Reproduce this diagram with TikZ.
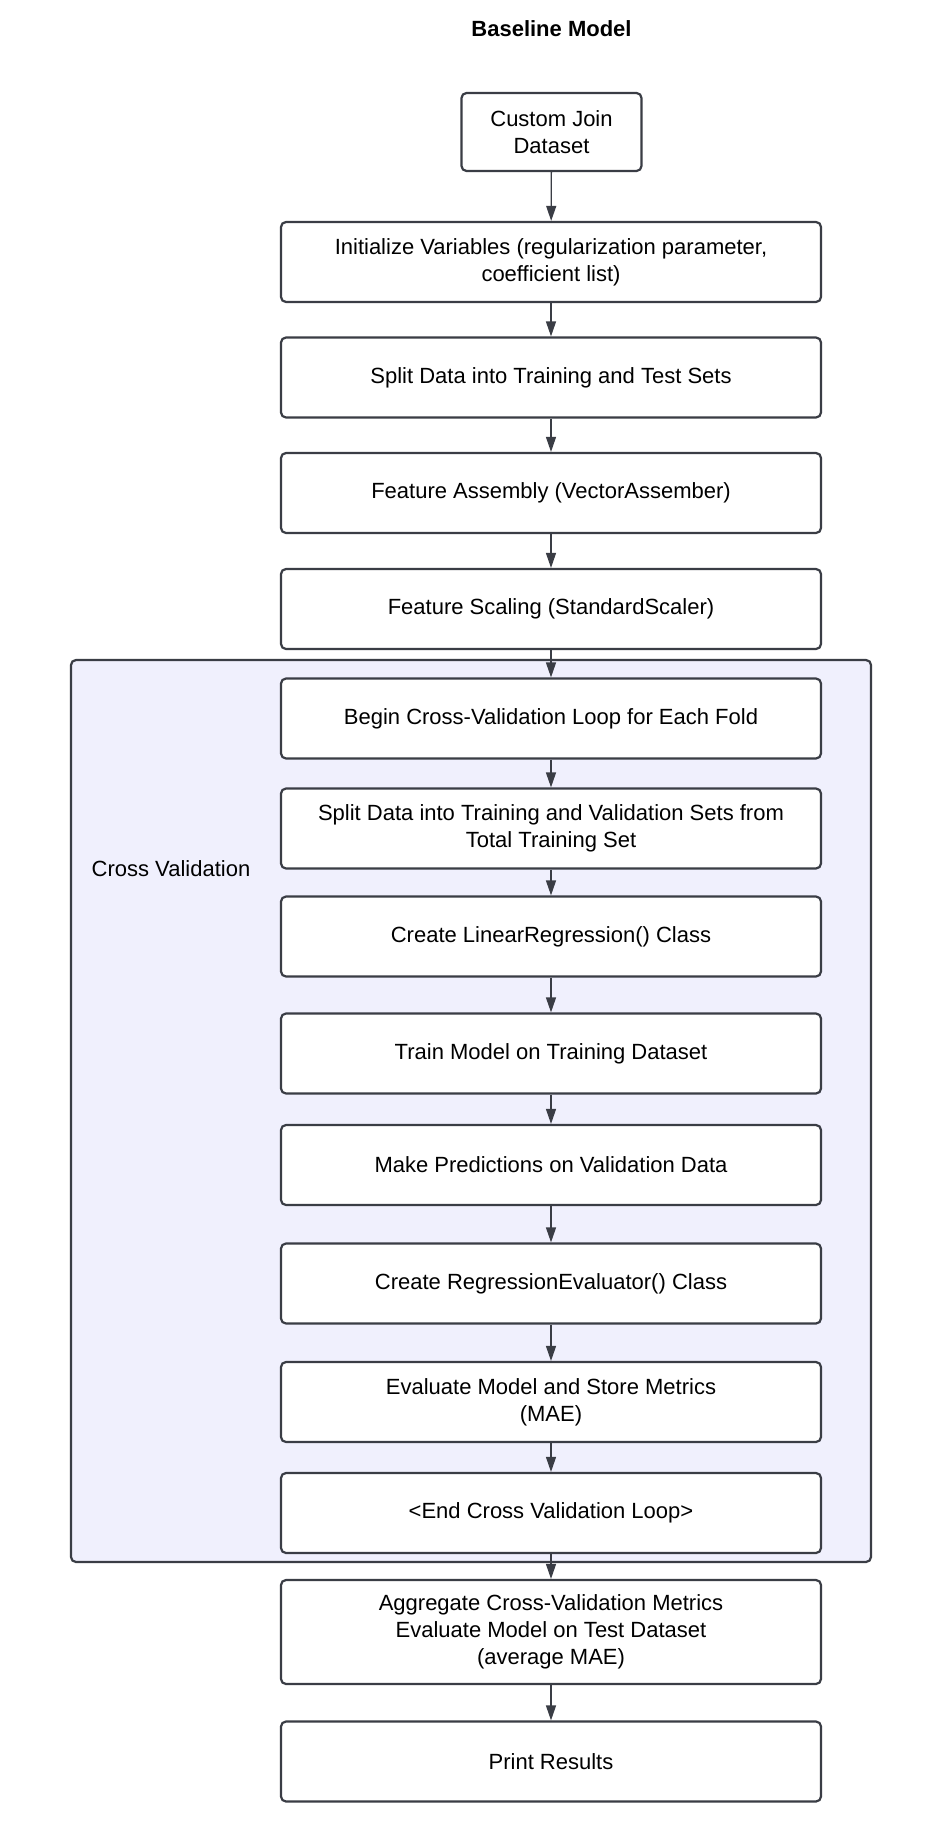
\documentclass[tikz,border=0pt]{standalone}
\usepackage{fontspec}
\setmainfont{Liberation Sans}
\usetikzlibrary{arrows.meta}
\definecolor{edgecol}{HTML}{3A3D45}
\definecolor{lanecol}{HTML}{F0F0FD}
\begin{document}
\begin{tikzpicture}[x=1pt,y=-1pt,
  box/.style={draw=edgecol, line width=2.2pt, rounded corners=5pt, fill=white,
    minimum width=540pt, minimum height=80pt, align=center,
    font=\fontsize{22}{27}\selectfont, inner sep=0pt},
  flow/.style={draw=edgecol, line width=1.3pt, -{Triangle[length=15pt,width=10pt]}},
  lane/.style={draw=edgecol, fill=lanecol, line width=2.2pt, rounded corners=5pt,
    minimum width=800pt, minimum height=902pt, inner sep=0pt}]
\path[fill=white] (0,0) rectangle (943,1833);
\useasboundingbox (0,0) rectangle (943,1833);

\node (title) at (551.5,29) {\fontsize{22}{27}\selectfont\bfseries Baseline Model};

\node[lane] (cv) at (471,1111) {};
\node[anchor=west, font=\fontsize{22}{27}\selectfont, inner sep=0pt] (cvlabel) at (91.5,869) {Cross Validation};

\node[box, minimum width=180pt, minimum height=78pt] (cj) at (551.5,132) {Custom Join\\Dataset};
\node[box] (init) at (551,262) {Initialize Variables (regularization parameter,\\coefficient list)};
\node[box] (split) at (551,377.5) {Split Data into Training and Test Sets};
\node[box] (fa) at (551,493) {Feature Assembly (VectorAssember)};
\node[box] (fs) at (551,609) {Feature Scaling (StandardScaler)};
\node[box] (bcv) at (551,718.5) {Begin Cross-Validation Loop for Each Fold};
\node[box] (sv) at (551,828.5) {Split Data into Training and Validation Sets from\\Total Training Set};
\node[box] (lr) at (551,936.5) {Create LinearRegression() Class};
\node[box] (train) at (551,1053.5) {Train Model on Training Dataset};
\node[box] (pred) at (551,1165) {Make Predictions on Validation Data};
\node[box] (re) at (551,1283.5) {Create RegressionEvaluator() Class};
\node[box] (eval) at (551,1402) {Evaluate Model and Store Metrics\\(MAE)};
\node[box] (end) at (551,1513) {<End Cross Validation Loop>};
\node[box, minimum height=104pt] (agg) at (551,1632) {Aggregate Cross-Validation Metrics\\Evaluate Model on Test Dataset\\(average MAE)};
\node[box] (print) at (551,1761.5) {Print Results};

\draw[flow] (cj) -- (init);
\draw[flow] (init) -- (split);
\draw[flow] (split) -- (fa);
\draw[flow] (fa) -- (fs);
\draw[flow] (fs) -- (bcv);
\draw[flow] (bcv) -- (sv);
\draw[flow] (sv) -- (lr);
\draw[flow] (lr) -- (train);
\draw[flow] (train) -- (pred);
\draw[flow] (pred) -- (re);
\draw[flow] (re) -- (eval);
\draw[flow] (eval) -- (end);
\draw[flow] (end) -- (agg);
\draw[flow] (agg) -- (print);
\end{tikzpicture}
\end{document}
